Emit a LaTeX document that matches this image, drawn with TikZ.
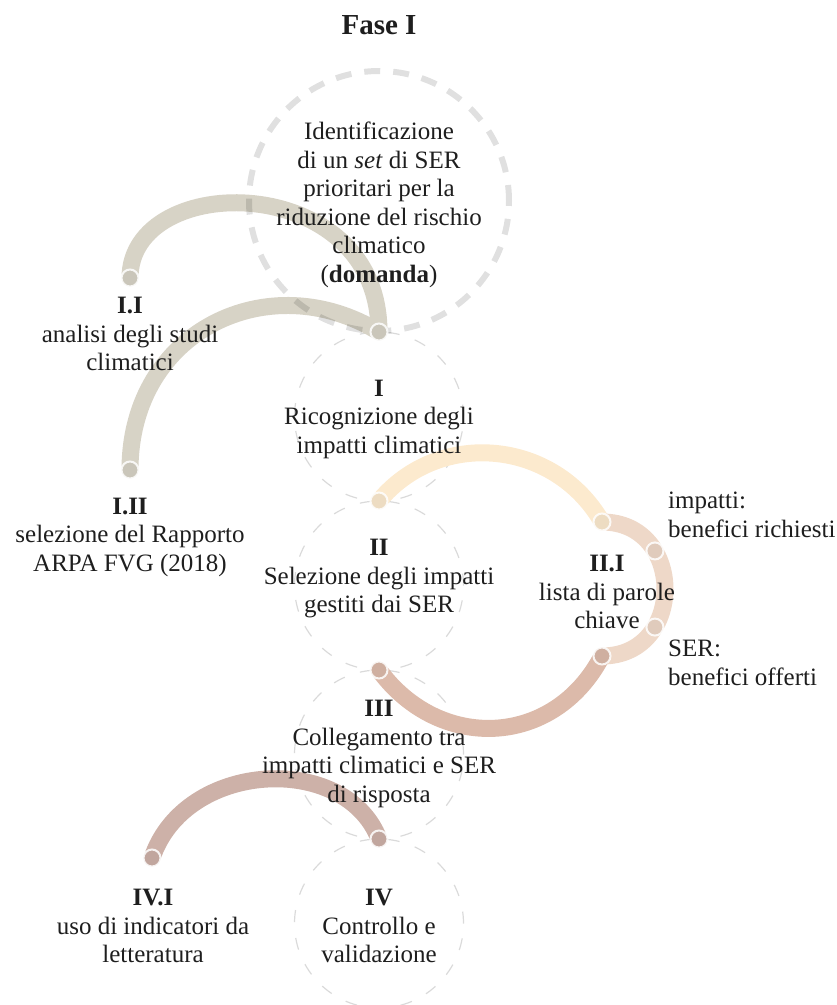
\documentclass[tikz,border=0pt]{standalone}
\usepackage{fontspec}
\setmainfont{Liberation Serif}

\definecolor{arcgrigio}{RGB}{215,211,198}
\definecolor{arccrema}{RGB}{252,234,206}
\definecolor{arcpesca}{RGB}{238,216,200}
\definecolor{arcrosa}{RGB}{220,186,170}
\definecolor{arcmalva}{RGB}{205,177,168}
\definecolor{tratteggio}{RGB}{218,218,218}
\definecolor{scuro}{RGB}{30,30,30}

\begin{document}
\begin{tikzpicture}[x=1pt, y=-1pt,
    testo/.style={align=center, text=scuro, inner sep=0pt,
        font=\fontsize{25}{28.5}\selectfont},
    arco/.style={line width=17pt, line cap=round},
    punto/.style={circle, fill=#1!94!black, draw=white, draw opacity=0.85,
        line width=2pt, minimum size=17pt, inner sep=0pt},
    cerchio/.style={draw=tratteggio, line width=1.2pt,
        dash pattern=on 12pt off 16pt}]
    % 画布大小与参数
    \useasboundingbox (0,0) rectangle (837,1005);
    \def\xc{379}    % 中轴
    \def\rag{84.5}  % 小圆半径

    % 中轴上的虚线圆
    \draw[cerchio] (\xc,416.5) circle[radius=\rag pt];
    \draw[cerchio] (\xc,585.5) circle[radius=\rag pt];
    \draw[cerchio] (\xc,754.5) circle[radius=\rag pt];
    \draw[cerchio] (\xc,923.5) circle[radius=\rag pt];

    % 连接点
    \coordinate (a0) at (\xc,332);
    \coordinate (a1) at (\xc,501);
    \coordinate (a2) at (\xc,670);
    \coordinate (a3) at (\xc,839);
    \coordinate (b1) at (130,278);
    \coordinate (b2) at (130,470);
    \coordinate (c1) at (602,522);
    \coordinate (c2) at (602,656);
    \coordinate (d1) at (152,858);

    % 彩色弧线
    \draw[arco, arcgrigio] (b1) .. controls (130,170) and (\xc,170) .. (a0);
    \draw[arco, arcgrigio] (b2) .. controls (130,330) and (270,265) .. (a0);
    \draw[arco, arccrema] (a1) .. controls (439,429) and (554,439) .. (c1);
    \draw[arco, arcpesca] (c1) .. controls (686,522) and (686,656) .. (c2)
        node[pos=.3, punto=arcpesca] (k1) {}
        node[pos=.7, punto=arcpesca] (k2) {};
    \draw[arco, arcrosa] (c2) .. controls (554,748) and (439,752) .. (a2);
    \draw[arco, arcmalva] (d1) .. controls (185,760) and (345,752) .. (a3);

    % 顶部粗虚线圆（画在弧线之上）
    \draw[line width=6pt, draw=black, draw opacity=0.12,
        dash pattern=on 16pt off 13pt] (\xc,201) circle[radius=130pt];

    % 端点小圆
    \node[punto=arcgrigio] (p0) at (a0) {};
    \node[punto=arcgrigio] (q1) at (b1) {};
    \node[punto=arcgrigio] (q2) at (b2) {};
    \node[punto=arccrema] (p1) at (a1) {};
    \node[punto=arccrema] (r1) at (c1) {};
    \node[punto=arcrosa] (r2) at (c2) {};
    \node[punto=arcrosa] (p2) at (a2) {};
    \node[punto=arcmalva] (p3) at (a3) {};
    \node[punto=arcmalva] (s1) at (d1) {};

    % 文字
    \node[testo, font=\bfseries\fontsize{29}{34}\selectfont] (fase) at (\xc,25) {Fase I};
    \node[testo] (domanda) at (\xc,205) {Identificazione\\di un \textit{set} di SER\\prioritari per la\\riduzione del rischio\\climatico\\(\textbf{domanda})};
    \node[testo] (fI) at (\xc,419) {\textbf{I}\\Ricognizione degli\\impatti climatici};
    \node[testo] (fII) at (\xc,579) {\textbf{II}\\Selezione degli impatti\\gestiti dai SER};
    \node[testo] (fIII) at (\xc,754) {\textbf{III}\\Collegamento tra\\impatti climatici e SER\\di risposta};
    \node[testo] (fIV) at (\xc,926) {\textbf{IV}\\Controllo e\\validazione};
    \node[testo] (fIi) at (130,334) {\textbf{I.I}\\analisi degli studi\\climatici};
    \node[testo] (fIii) at (130,537) {\textbf{I.II}\\selezione del Rapporto\\ARPA FVG (2018)};
    \node[testo] (fIIi) at (607,592) {\textbf{II.I}\\lista di parole\\chiave};
    \node[testo] (fIVi) at (153,926) {\textbf{IV.I}\\uso di indicatori da\\letteratura};
    \node[testo, align=left, anchor=west] (richiesti) at (668,515) {impatti:\\benefici richiesti};
    \node[testo, align=left, anchor=west] (offerti) at (668,663) {SER:\\benefici offerti};

\end{tikzpicture}
\end{document}
